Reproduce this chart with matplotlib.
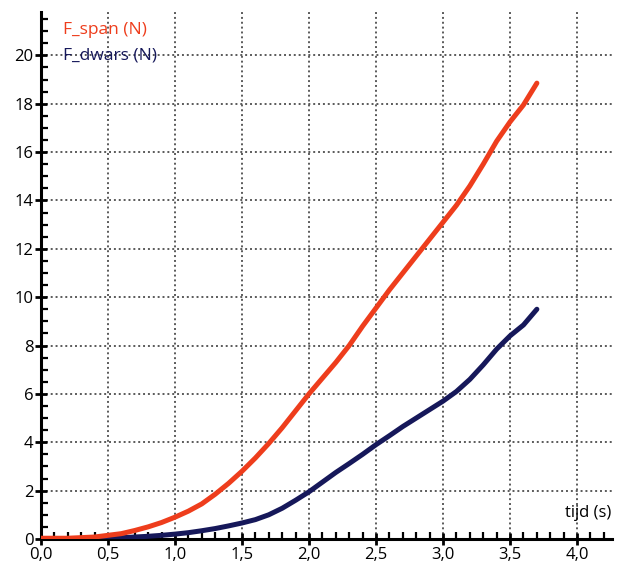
import numpy as np
import matplotlib
matplotlib.use('Agg')
import matplotlib.pyplot as plt
from matplotlib.ticker import MultipleLocator, FuncFormatter

# tijd (s) and the two force series
t_span = [0.0, 0.2, 0.4, 0.5, 0.6, 0.7, 0.8, 0.9, 1.0, 1.1, 1.2, 1.3, 1.4,
          1.5, 1.6, 1.7, 1.8, 1.9, 2.0, 2.1, 2.2, 2.3, 2.4, 2.5, 2.6, 2.7,
          2.8, 2.9, 3.0, 3.1, 3.2, 3.3, 3.4, 3.5, 3.6, 3.7]
f_span = [0.03, 0.03, 0.08, 0.15, 0.22, 0.35, 0.5, 0.68, 0.9, 1.15, 1.45,
          1.85, 2.3, 2.8, 3.35, 3.95, 4.6, 5.3, 6.0, 6.65, 7.3, 8.0, 8.8,
          9.55, 10.3, 11.0, 11.7, 12.4, 13.1, 13.8, 14.6, 15.5, 16.45, 17.25,
          17.95, 18.85]

t_dwars = [0.0, 0.5, 0.6, 0.7, 0.8, 0.9, 1.0, 1.1, 1.2, 1.3, 1.4, 1.5, 1.6,
           1.7, 1.8, 1.9, 2.0, 2.1, 2.2, 2.3, 2.4, 2.5, 2.6, 2.7, 2.8, 2.9,
           3.0, 3.1, 3.2, 3.3, 3.4, 3.5, 3.6, 3.7]
f_dwars = [0.0, 0.02, 0.05, 0.08, 0.11, 0.15, 0.2, 0.26, 0.34, 0.43, 0.54,
           0.66, 0.8, 1.0, 1.27, 1.6, 1.95, 2.35, 2.75, 3.12, 3.5, 3.9, 4.27,
           4.65, 5.0, 5.35, 5.7, 6.1, 6.6, 7.2, 7.85, 8.4, 8.85, 9.5]

col_span = '#ee3d1c'
col_dwars = '#16185a'

plt.rcParams['font.family'] = ['Open Sans', 'DejaVu Sans']

fig = plt.figure(figsize=(6.2, 5.62), dpi=100)
ax = fig.add_axes([0.066, 0.041, 0.921, 0.938])

ax.plot(t_dwars, f_dwars, color=col_dwars, linewidth=3.6,
        solid_capstyle='round', solid_joinstyle='round', zorder=3)
ax.plot(t_span, f_span, color=col_span, linewidth=3.6,
        solid_capstyle='round', solid_joinstyle='round', zorder=4)

ax.set_xlim(0, 4.26)
ax.set_ylim(0, 21.8)

ax.xaxis.set_major_locator(MultipleLocator(0.5))
ax.xaxis.set_minor_locator(MultipleLocator(0.1))
ax.yaxis.set_major_locator(MultipleLocator(2))
ax.yaxis.set_minor_locator(MultipleLocator(0.5))
ax.xaxis.set_major_formatter(FuncFormatter(
    lambda v, p: '{0:.1f}'.format(v).replace('.', ',')))
ax.yaxis.set_major_formatter(FuncFormatter(lambda v, p: '{0:d}'.format(int(round(v)))))

ax.grid(True, which='major', linestyle=(0, (1, 1.5)), color='#5a5a5a',
        linewidth=1.4)
ax.set_axisbelow(True)

for s in ['top', 'right']:
    ax.spines[s].set_visible(False)
for s in ['left', 'bottom']:
    ax.spines[s].set_linewidth(2.2)
    ax.spines[s].set_color('black')

ax.tick_params(which='major', direction='inout', length=9, width=2,
               labelsize=12, pad=1)
ax.tick_params(which='minor', direction='in', length=5, width=1.6)

ax.text(0.038, 0.965, 'F_span (N)', transform=ax.transAxes, color=col_span,
        fontsize=12.5, ha='left', va='center')
ax.text(0.038, 0.917, 'F_dwars (N)', transform=ax.transAxes, color=col_dwars,
        fontsize=12.5, ha='left', va='center')
ax.text(0.998, 0.05, 'tijd (s)', transform=ax.transAxes, color='black',
        fontsize=12, ha='right', va='center')

fig.savefig('out.png', dpi=100)
